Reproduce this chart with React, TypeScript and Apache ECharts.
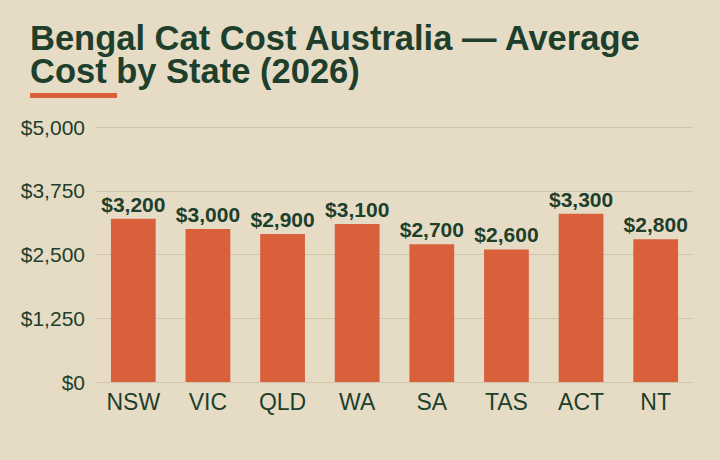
import React, { useEffect, useRef } from 'react';
import * as echarts from 'echarts';

const STATES = ['NSW', 'VIC', 'QLD', 'WA', 'SA', 'TAS', 'ACT', 'NT'];
const AVG_COST = [3200, 3000, 2900, 3100, 2700, 2600, 3300, 2800];
const TITLE = 'Bengal Cat Cost Australia \u2014 Average\nCost by State (2026)';

const BG = '#e6dcc5';
const INK = '#1d3f2c';
const ACCENT = '#d9603b';
const GRID = '#d0c5a9';
const FONT = '"Liberation Sans", Arial, sans-serif';

const money = (v: number) => '$' + v.toLocaleString('en-US');

const App: React.FC = () => {
  const chartRef = useRef<HTMLDivElement>(null);

  useEffect(() => {
    if (!chartRef.current) return;
    const chart = echarts.init(chartRef.current, null, { renderer: 'svg' });

    chart.setOption({
      animation: false,
      backgroundColor: BG,
      textStyle: { fontFamily: FONT },
      title: {
        text: TITLE,
        left: 30,
        top: 21,
        padding: 0,
        textStyle: {
          color: INK,
          fontSize: 34.5,
          fontWeight: 'bold',
          lineHeight: 33,
          fontFamily: FONT
        }
      },
      graphic: [
        {
          type: 'rect',
          left: 30,
          top: 93,
          shape: { width: 87, height: 5 },
          style: { fill: ACCENT }
        }
      ],
      grid: { left: 96, right: 27, top: 127, bottom: 78 },
      xAxis: {
        type: 'category',
        data: STATES,
        axisLine: { show: false },
        axisTick: { show: false },
        axisLabel: { color: INK, fontSize: 23, margin: 8 }
      },
      yAxis: {
        type: 'value',
        min: 0,
        max: 5000,
        interval: 1250,
        axisLine: { show: false },
        axisTick: { show: false },
        splitLine: { lineStyle: { color: GRID, width: 1 } },
        axisLabel: {
          color: INK,
          fontSize: 21,
          margin: 11,
          formatter: (v: number) => money(v)
        }
      },
      series: [
        {
          type: 'bar',
          data: AVG_COST,
          barWidth: '60%',
          itemStyle: { color: ACCENT },
          label: {
            show: true,
            position: 'top',
            distance: 4,
            color: INK,
            fontSize: 21,
            fontWeight: 'bold',
            formatter: (p: any) => money(p.value)
          }
        }
      ]
    });

    return () => {
      chart.dispose();
    };
  }, []);

  return (
    <div
      ref={chartRef}
      style={{ position: 'fixed', left: 0, top: 0, width: 720, height: 460 }}
    />
  );
};

export default App;
